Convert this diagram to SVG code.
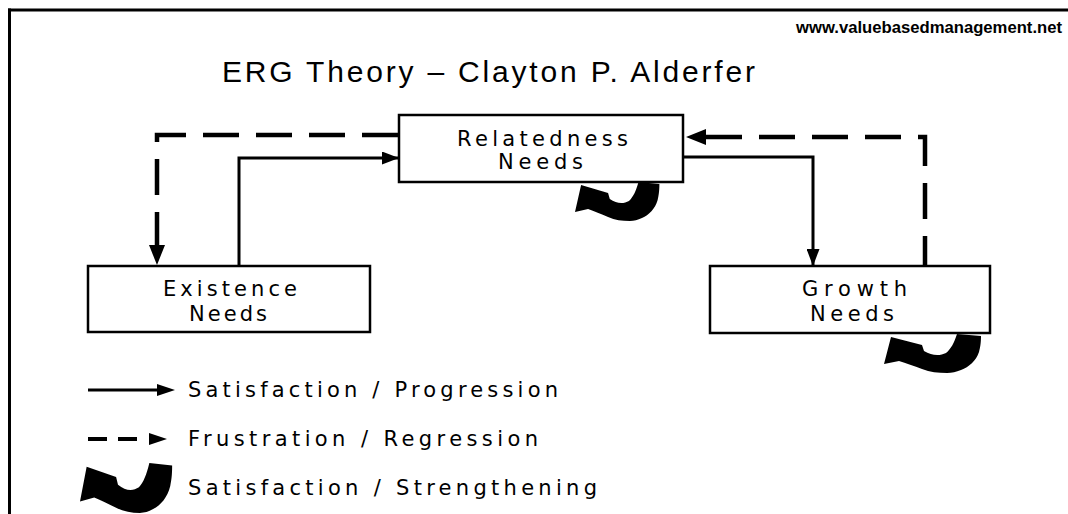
<svg xmlns="http://www.w3.org/2000/svg" width="1068" height="514" viewBox="0 0 1068 514">
  <style>
    .box { fill: #fff; stroke: #000; stroke-width: 2.5; }
    .lbl { font-family: "DejaVu Sans", "Liberation Sans", sans-serif; font-size: 21px; fill: #000; }
    .solid { fill: none; stroke: #000; stroke-width: 3; }
    .dash { fill: none; stroke: #000; stroke-width: 4.5; stroke-dasharray: 36 17; }
    .curl { fill: #000; }
  </style>
  <defs>
    <marker id="ah" markerUnits="userSpaceOnUse" markerWidth="17" markerHeight="13" refX="16" refY="6.5" orient="auto">
      <path d="M0,0 L17,6.5 L0,13 Z" fill="#000"/>
    </marker>
    <marker id="ahd" markerUnits="userSpaceOnUse" markerWidth="20" markerHeight="16" refX="19" refY="8" orient="auto">
      <path d="M0,0 L20,8 L0,16 Z" fill="#000"/>
    </marker>
    <path id="curlShape" d="M7,3 L38,11 L40,17 C48,22 56,22 62,19 C67,15 70,9 73,0 L97,2 C97,10 96,14 95,18 C92,27 85,33 77,36 C72,38 68,39 63,39 C54,39 46,38 38,35 C30,32 22,29 15,27 L0,30 Z"/>
  </defs>

  <g id="frame">
    <line x1="9.5" y1="8.5" x2="9.5" y2="514" stroke="#000" stroke-width="3"/>
    <line x1="8" y1="10" x2="1068" y2="10" stroke="#000" stroke-width="3"/>
  </g>

  <g id="header">
    <text x="796" y="33" font-family="Liberation Sans, Arial, sans-serif" font-size="17" font-weight="bold" textLength="266" lengthAdjust="spacingAndGlyphs">www.valuebasedmanagement.net</text>
    <text x="222" y="82" font-family="Liberation Sans, Arial, sans-serif" font-size="30" textLength="533" lengthAdjust="spacing">ERG Theory – Clayton P. Alderfer</text>
  </g>

  <g id="connectors">
    <path class="solid" d="M239,266 V158 H398" marker-end="url(#ah)"/>
    <path class="solid" d="M683,157 H813 V265" marker-end="url(#ah)"/>
    <path class="dash" d="M398,135 H157 V264" marker-end="url(#ahd)"/>
    <path class="dash" d="M706,137 H925 V266"/>
    <path d="M686,137 L706,129 L706,145 Z" fill="#000"/>
  </g>

  <g id="relatedness">
    <rect class="box" x="399" y="115" width="284" height="67"/>
    <text class="lbl" x="457" y="146" textLength="171" lengthAdjust="spacing">Relatedness</text>
    <text class="lbl" x="498" y="169" textLength="85" lengthAdjust="spacing">Needs</text>
  </g>

  <g id="existence">
    <rect class="box" x="88" y="266" width="282" height="66"/>
    <text class="lbl" x="163" y="296" textLength="134" lengthAdjust="spacing">Existence</text>
    <text class="lbl" x="189" y="321" textLength="78" lengthAdjust="spacing">Needs</text>
  </g>

  <g id="growth">
    <rect class="box" x="710" y="266" width="280" height="67"/>
    <text class="lbl" x="802" y="296" textLength="105" lengthAdjust="spacing">Growth</text>
    <text class="lbl" x="810" y="321" textLength="84" lengthAdjust="spacing">Needs</text>
  </g>

  <g id="curls">
    <use href="#curlShape" class="curl" transform="translate(575,182) scale(0.87,1.0)"/>
    <use href="#curlShape" class="curl" transform="translate(884,334)"/>
  </g>

  <g id="legend">
    <line x1="88" y1="390" x2="160" y2="390" stroke="#000" stroke-width="3"/>
    <path d="M157,384 L175,390 L157,396 Z" fill="#000"/>
    <text class="lbl" x="188" y="397" textLength="370" lengthAdjust="spacing">Satisfaction / Progression</text>

    <line x1="88" y1="439" x2="107" y2="439" stroke="#000" stroke-width="4"/>
    <line x1="118" y1="439" x2="137" y2="439" stroke="#000" stroke-width="4"/>
    <path d="M149,433 L167,439 L149,445 Z" fill="#000"/>
    <text class="lbl" x="188" y="446" textLength="350" lengthAdjust="spacing">Frustration / Regression</text>

    <use href="#curlShape" class="curl" transform="translate(80,463) scale(0.95,1.28)"/>
    <text class="lbl" x="188" y="495" textLength="409" lengthAdjust="spacing">Satisfaction / Strengthening</text>
  </g>
</svg>
